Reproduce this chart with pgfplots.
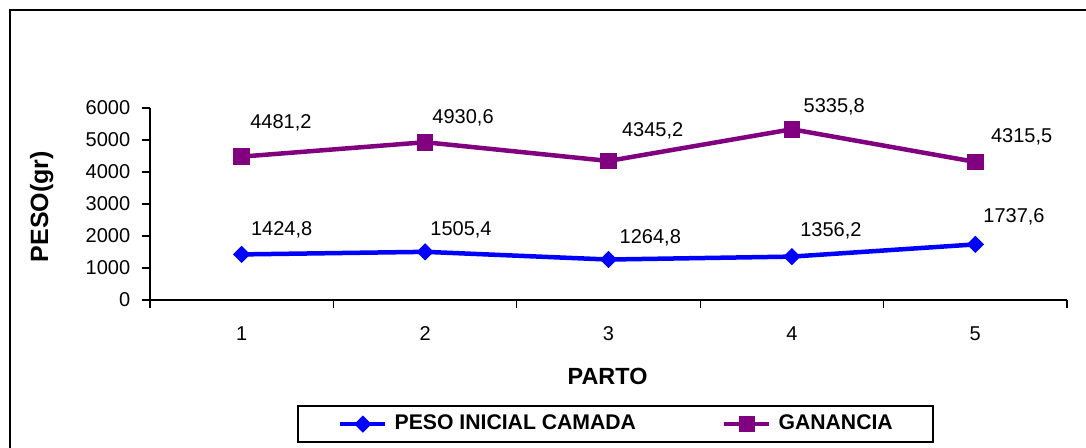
\documentclass[border=0pt]{standalone}
\usepackage{fontspec}
\setmainfont{Liberation Sans}
\usepackage{pgfplots}
\pgfplotsset{compat=1.18}
\usepackage{pgfplotstable}
\definecolor{serA}{RGB}{0,0,255}
\definecolor{serB}{RGB}{128,0,128}

\pgfplotstableread{
x y
1 1424.8
2 1505.4
3 1264.8
4 1356.2
5 1737.6
}\peso
\pgfplotstableread{
x y
1 4481.2
2 4930.6
3 4345.2
4 5335.8
5 4315.5
}\gan
\pgfplotstableread{
x y label
1.049 2031 1424,8
2.027 2031 1505,4
3.059 1781 1264,8
4.044 2000 1356,2
5.042 2437 1737,6
}\labA
\pgfplotstableread{
x y label
1.045 5344 4481,2
2.038 5531 4930,6
3.072 5094 4345,2
4.062 5844 5335,8
5.084 4916 4315,5
}\labB

\begin{document}
\begin{tikzpicture}
\useasboundingbox (0,0) rectangle (543pt,223.5pt);
\draw[line width=1pt, black] (5pt,-10pt) rectangle (560pt,218.5pt);
\begin{axis}[
  at={(75pt,73.5pt)}, anchor=south west,
  scale only axis, width=458.5pt, height=96pt,
  xmin=0.5, xmax=5.5, ymin=0, ymax=6000,
  axis x line*=bottom, axis y line*=left,
  xtick={1,2,3,4,5},
  minor xtick={0.5,1.5,2.5,3.5,4.5,5.5},
  major x tick style={draw=none},
  minor x tick style={black, line width=0.6pt},
  major tick length=4pt, minor tick length=4pt,
  tick align=outside,
  ytick={0,1000,2000,3000,4000,5000,6000},
  scaled y ticks=false,
  /pgf/number format/1000 sep={},
  /pgf/number format/assume math mode=true,
  tick label style={font=\fontsize{10}{12}\selectfont, text=black},
  xticklabel style={yshift=-5.9pt},
  yticklabel style={xshift=-2.4pt},
  axis line style={line width=0.6pt, black},
  tick style={line width=0.6pt, black},
  xlabel={PARTO},
  xlabel style={at={(axis description cs:0.499,-0.40)}, anchor=center, font=\bfseries\fontsize{11.7}{14}\selectfont},
  ylabel={PESO(gr)},
  ylabel style={at={(axis description cs:-0.118,0.486)}, anchor=center, font=\bfseries\fontsize{12.5}{14}\selectfont},
  clip=false,
  legend columns=2,
  legend style={at={(axis description cs:0.5076,-0.646)}, anchor=center,
    draw=black, line width=0.75pt, inner xsep=20pt, inner ysep=4.5pt,
    nodes={inner sep=0pt, font=\bfseries\fontsize{10.6}{12}\selectfont},
    /tikz/every odd column/.append style={column sep=3.5pt},
    /tikz/every even column/.append style={column sep=43pt}},
  legend image code/.code={\draw[mark repeat=2,mark phase=2] plot coordinates {(0pt,0pt)(11.25pt,0pt)(22.5pt,0pt)};},
]
\addplot[serA, line width=2.25pt, mark=square*, mark size=2.8pt, mark options={solid, rotate=45, line width=0.5pt, fill=serA}] table[x=x,y=y] {\peso};
\addlegendentry{PESO INICIAL CAMADA}
\addplot[serB, line width=2.25pt, mark=square*, mark size=3.9pt, mark options={solid, line width=0.5pt, fill=serB}] table[x=x,y=y] {\gan};
\addlegendentry{GANANCIA}
\addplot[forget plot, draw=none, mark=none, nodes near coords, point meta=explicit symbolic,
  nodes near coords style={anchor=base west, inner sep=0pt, font=\fontsize{10}{12}\selectfont, text=black}]
  table[x=x,y=y,meta=label] {\labA};
\addplot[forget plot, draw=none, mark=none, nodes near coords, point meta=explicit symbolic,
  nodes near coords style={anchor=base west, inner sep=0pt, font=\fontsize{10}{12}\selectfont, text=black}]
  table[x=x,y=y,meta=label] {\labB};
\end{axis}
\end{tikzpicture}
\end{document}
